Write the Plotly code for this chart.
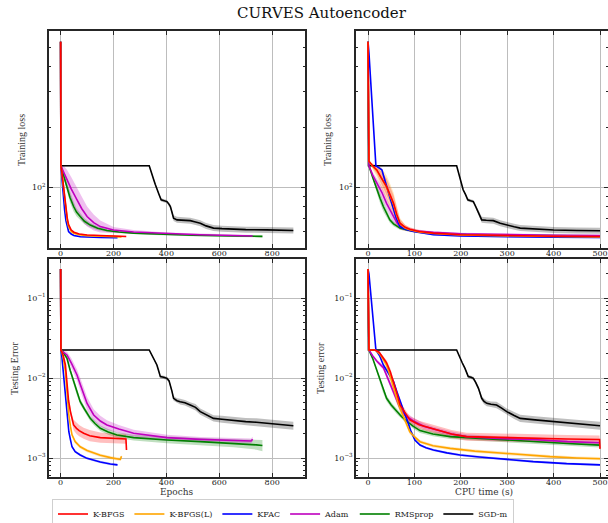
import plotly.graph_objects as go

# ---------------- names / colours ----------------
names = ["K-BFGS", "K-BFGS(L)", "KFAC", "Adam", "RMSprop", "SGD-m"]

# ---------------- Top-left: Epochs vs training loss ----------------
tl_kbfgs_x = [0, 1, 5, 10, 15, 20, 25, 30, 40, 50, 70, 100, 150, 200, 248]
tl_kbfgs_y = [535, 128, 118, 103, 90, 78, 70, 65, 61, 59.5, 58.3, 57.6, 57.1, 56.8, 56.6]
tl_kbfgs_s = [0, 0, 0.005, 0.008, 0.01, 0.01, 0.01, 0.008, 0.006, 0.005, 0.004, 0.004, 0.004, 0.004, 0.004]

tl_kbfgsl_x = [0, 1, 5, 10, 15, 20, 25, 30, 40, 50, 70, 100, 150, 200, 230]
tl_kbfgsl_y = [535, 128, 117, 101, 88, 76, 68, 63.5, 60, 58.8, 57.8, 57.2, 56.8, 56.5, 56.4]
tl_kbfgsl_s = [0, 0, 0.006, 0.01, 0.012, 0.012, 0.01, 0.008, 0.006, 0.005, 0.004, 0.004, 0.004, 0.004, 0.004]

tl_kfac_x = [0, 1, 5, 10, 15, 20, 25, 30, 40, 50, 75, 100, 150, 215]
tl_kfac_y = [535, 128, 110, 90, 77, 68, 63, 60, 58.3, 57.3, 56.5, 56.2, 56, 55.8]
tl_kfac_s = [0, 0, 0.005, 0.006, 0.006, 0.005, 0.004, 0.004, 0.004, 0.004, 0.003, 0.003, 0.003, 0.003]

tl_adam_x = [0, 1, 10, 24, 40, 62, 80, 100, 125, 150, 200, 276, 400, 528, 650, 726]
tl_adam_y = [535, 128, 120, 109, 98, 86.4, 78, 71.3, 66.5, 63.5, 61, 59.6, 58.5, 57.8, 57.3, 57]
tl_adam_s = [0, 0.005, 0.03, 0.05, 0.06, 0.06, 0.06, 0.05, 0.04, 0.03, 0.015, 0.01, 0.006, 0.005, 0.005, 0.005]

tl_rms_x = [0, 1, 10, 24, 35, 49, 60, 74, 90, 112, 140, 175, 220, 276, 350, 402, 500, 654, 763]
tl_rms_y = [535, 128, 116, 100, 89, 80, 75, 71.3, 67.5, 64.6, 62.3, 60.7, 59.6, 58.9, 58.3, 57.9, 57.5, 57, 56.7]
tl_rms_s = [0, 0, 0.01, 0.02, 0.025, 0.025, 0.02, 0.018, 0.015, 0.012, 0.01, 0.008, 0.006, 0.005, 0.005, 0.005, 0.005, 0.005, 0.005]

tl_sgd_x = [0, 1, 335, 345, 352, 358, 364, 372, 380, 392, 402, 410, 415, 422, 427, 440, 470, 490, 510, 528,
            550, 578, 610, 654, 700, 780, 830, 880]
tl_sgd_y = [535, 128, 128, 118, 109, 103, 97, 92, 86.4, 85.5, 84.7, 82, 80, 74, 70, 68.6, 68.3, 68, 67, 66,
            64, 62.4, 62, 61.6, 61.3, 61.1, 60.9, 60.7]
tl_sgd_s = [0, 0.004, 0.004, 0.005, 0.006, 0.006, 0.006, 0.006, 0.008, 0.008, 0.008, 0.01, 0.01, 0.012, 0.014,
            0.015, 0.015, 0.015, 0.015, 0.015, 0.015, 0.015, 0.015, 0.015, 0.015, 0.015, 0.015, 0.015]

# ---------------- Top-right: CPU time vs training loss ----------------
tr_kbfgs_x = [0, 2, 10, 19, 28, 40, 48, 55, 62, 69, 80, 90, 110, 141, 200, 300, 400, 500]
tr_kbfgs_y = [535, 135, 128, 122, 112, 100.7, 91, 83, 73, 66, 63, 61.6, 60, 58.9, 57.8, 57.1, 56.8, 56.6]
tr_kbfgs_s = [0, 0, 0.01, 0.02, 0.03, 0.04, 0.04, 0.04, 0.035, 0.02, 0.012, 0.01, 0.008, 0.006, 0.005, 0.005, 0.005, 0.005]

tr_kbfgsl_x = [0, 2, 10, 19, 28, 40, 48, 55, 62, 69, 80, 90, 110, 141, 200, 300, 400, 500]
tr_kbfgsl_y = [535, 135, 127, 121, 112, 100, 90, 82, 72, 65.5, 62.5, 61.2, 59.7, 58.6, 57.6, 56.9, 56.6, 56.4]
tr_kbfgsl_s = [0, 0, 0.015, 0.03, 0.05, 0.06, 0.06, 0.06, 0.05, 0.03, 0.015, 0.01, 0.008, 0.006, 0.005, 0.005, 0.005, 0.005]

tr_kfac_x = [0, 2, 17, 25, 30, 38, 47, 54, 60, 69, 80, 98, 120, 141, 200, 300, 400, 500]
tr_kfac_y = [535, 470, 128, 125, 122, 105, 89.7, 80, 71, 63.5, 61.5, 60, 58.8, 57.9, 57, 56.4, 56.1, 56]
tr_kfac_s = [0, 0, 0, 0.005, 0.01, 0.015, 0.02, 0.02, 0.015, 0.01, 0.006, 0.005, 0.004, 0.004, 0.004, 0.004, 0.004, 0.004]

tr_adam_x = [0, 2, 10, 19, 30, 40, 47, 54, 62, 69, 85, 105, 141, 200, 300, 400, 500]
tr_adam_y = [535, 128, 115, 104.7, 94, 83, 77, 71.3, 66.5, 63.5, 61.5, 60.3, 59.4, 58.5, 57.8, 57.4, 57.2]
tr_adam_s = [0, 0, 0.015, 0.025, 0.03, 0.03, 0.03, 0.025, 0.02, 0.015, 0.01, 0.008, 0.006, 0.005, 0.005, 0.005, 0.005]

tr_rms_x = [0, 2, 10, 19, 26, 33, 40, 47, 55, 62, 69, 85, 105, 140, 212, 300, 400, 500]
tr_rms_y = [535, 128, 112, 97, 88, 80, 74, 68.6, 65.5, 63.6, 62.4, 61, 60, 59, 57.9, 57.4, 57.2, 57]
tr_rms_s = [0, 0, 0.01, 0.02, 0.025, 0.025, 0.02, 0.015, 0.012, 0.01, 0.008, 0.006, 0.005, 0.005, 0.005, 0.005, 0.005, 0.005]

tr_sgd_x = [0, 1, 191, 195, 198, 202, 205, 210, 215, 221, 227, 232, 238, 242, 245, 255, 270, 285, 299, 315,
            328, 360, 400, 450, 500]
tr_sgd_y = [535, 128, 128, 118, 109, 103, 97, 92, 86.4, 85.5, 84.7, 80, 74, 71, 68.6, 68.3, 68, 66, 64.6, 63.3,
            62.4, 61.6, 61, 60.7, 60.5]
tr_sgd_s = [0, 0.004, 0.004, 0.005, 0.006, 0.006, 0.006, 0.006, 0.008, 0.008, 0.008, 0.01, 0.012, 0.014, 0.015,
            0.015, 0.015, 0.015, 0.015, 0.015, 0.015, 0.015, 0.015, 0.015, 0.015]

# ---------------- Bottom-left: Epochs vs testing error ----------------
bl_kbfgs_x = [0, 1, 5, 10, 18, 24, 30, 37, 43, 49, 60, 70, 87, 110, 150, 200, 247, 249]
bl_kbfgs_y = [0.23, 0.0224, 0.021, 0.019, 0.01454, 0.00743, 0.0052, 0.0038, 0.0030, 0.00259, 0.00235, 0.0022,
              0.00204, 0.0019, 0.0018, 0.00175, 0.00173, 0.00126]
bl_kbfgs_s = [0, 0, 0.005, 0.01, 0.02, 0.03, 0.04, 0.05, 0.06, 0.065, 0.07, 0.07, 0.07, 0.07, 0.065, 0.06, 0.06, 0.02]

bl_kbfgsl_x = [0, 1, 5, 10, 18, 24, 31, 37, 43, 55, 74, 100, 125, 150, 188, 226, 230]
bl_kbfgsl_y = [0.23, 0.0224, 0.021, 0.018, 0.012, 0.0065, 0.00346, 0.0025, 0.00195, 0.0016, 0.00138, 0.00124,
               0.00115, 0.00108, 0.00101, 0.00096, 0.00105]
bl_kbfgsl_s = [0, 0, 0.005, 0.01, 0.015, 0.02, 0.02, 0.02, 0.02, 0.02, 0.02, 0.02, 0.02, 0.02, 0.02, 0.02, 0.02]

bl_kfac_x = [0, 1, 5, 10, 18, 24, 31, 37, 43, 55, 74, 100, 125, 150, 188, 215]
bl_kfac_y = [0.23, 0.0224, 0.018, 0.012, 0.00557, 0.0032, 0.00213, 0.0017, 0.00138, 0.0012, 0.00109, 0.00099,
             0.00093, 0.00089, 0.00084, 0.00082]
bl_kfac_s = [0, 0, 0.005, 0.01, 0.015, 0.015, 0.015, 0.015, 0.015, 0.015, 0.015, 0.015, 0.015, 0.015, 0.015, 0.015]

bl_adam_x = [0, 1, 10, 24, 40, 62, 75, 87, 100, 125, 150, 175, 220, 276, 350, 402, 528, 679, 720, 726]
bl_adam_y = [0.23, 0.0224, 0.021, 0.0194, 0.0155, 0.0109, 0.0082, 0.00613, 0.0048, 0.00345, 0.0029, 0.00259,
             0.0023, 0.00204, 0.00188, 0.0018, 0.00171, 0.00163, 0.00163, 0.00172]
bl_adam_s = [0, 0.005, 0.02, 0.04, 0.06, 0.07, 0.08, 0.08, 0.08, 0.07, 0.065, 0.06, 0.05, 0.045, 0.04, 0.035,
             0.03, 0.03, 0.03, 0.03]

bl_rms_x = [0, 1, 10, 24, 36, 49, 60, 74, 90, 112, 130, 150, 180, 213, 276, 350, 402, 528, 654, 740, 763]
bl_rms_y = [0.23, 0.0224, 0.021, 0.0176, 0.0125, 0.009, 0.0068, 0.00506, 0.0041, 0.00313, 0.0027, 0.00235,
            0.00212, 0.00194, 0.0018, 0.00172, 0.00168, 0.0016, 0.00153, 0.00146, 0.00143]
bl_rms_s = [0, 0.005, 0.01, 0.02, 0.03, 0.035, 0.035, 0.035, 0.035, 0.035, 0.035, 0.035, 0.035, 0.035, 0.035,
            0.04, 0.04, 0.045, 0.05, 0.06, 0.07]

bl_sgd_x = [0, 1, 335, 345, 352, 358, 364, 370, 377, 390, 402, 410, 415, 421, 427, 440, 452, 470, 490, 510,
            528, 550, 578, 610, 654, 700, 740, 780, 830, 880]
bl_sgd_y = [0.23, 0.0224, 0.0224, 0.0195, 0.0176, 0.0163, 0.01454, 0.0125, 0.0104, 0.0102, 0.0099, 0.0092,
            0.00818, 0.0068, 0.00557, 0.0052, 0.00506, 0.0049, 0.0046, 0.0043, 0.0038, 0.0035, 0.00313,
            0.00305, 0.00293, 0.00285, 0.0028, 0.00271, 0.00262, 0.00253]
bl_sgd_s = [0, 0.005, 0.005, 0.008, 0.01, 0.012, 0.015, 0.015, 0.02, 0.02, 0.02, 0.02, 0.025, 0.03, 0.03, 0.03,
            0.035, 0.035, 0.035, 0.04, 0.04, 0.04, 0.04, 0.045, 0.045, 0.045, 0.05, 0.05, 0.05, 0.05]

# ---------------- Bottom-right: CPU time vs testing error ----------------
br_kbfgs_x = [0, 2, 15, 24, 32, 40, 48, 55, 62, 69, 80, 90, 110, 141, 180, 212, 280, 356, 430, 499, 500]
br_kbfgs_y = [0.23, 0.0224, 0.0224, 0.021, 0.018, 0.0155, 0.012, 0.009, 0.0065, 0.0046, 0.0036, 0.003, 0.0026,
              0.0023, 0.002, 0.00185, 0.0018, 0.00176, 0.00173, 0.0017, 0.0013]
br_kbfgs_s = [0, 0, 0.005, 0.01, 0.02, 0.03, 0.04, 0.04, 0.04, 0.04, 0.045, 0.045, 0.05, 0.05, 0.05, 0.05, 0.05,
              0.05, 0.05, 0.05, 0.02]

br_kbfgsl_x = [0, 2, 15, 25, 33, 40, 48, 55, 62, 69, 80, 90, 101, 112, 140, 177, 230, 284, 340, 392, 450, 500]
br_kbfgsl_y = [0.23, 0.0224, 0.0224, 0.02, 0.017, 0.0145, 0.0105, 0.0074, 0.0055, 0.0042, 0.0029, 0.00213,
               0.00182, 0.0016, 0.00142, 0.00132, 0.00122, 0.00115, 0.00109, 0.00104, 0.001, 0.00098]
br_kbfgsl_s = [0, 0, 0.005, 0.02, 0.04, 0.05, 0.06, 0.06, 0.06, 0.05, 0.04, 0.03, 0.025, 0.02, 0.02, 0.02, 0.02,
               0.02, 0.02, 0.02, 0.02, 0.02]

br_kfac_x = [0, 2, 17, 25, 33, 44, 55, 62, 69, 76, 83, 92, 101, 112, 125, 141, 170, 198, 240, 284, 356, 428, 500]
br_kfac_y = [0.23, 0.2, 0.0224, 0.019, 0.01454, 0.0115, 0.009, 0.0068, 0.00506, 0.004, 0.00313, 0.0022, 0.00168,
             0.00145, 0.00134, 0.00126, 0.00116, 0.00109, 0.00103, 0.00098, 0.0009, 0.00085, 0.00082]
br_kfac_s = [0, 0, 0, 0.01, 0.02, 0.03, 0.03, 0.03, 0.03, 0.03, 0.025, 0.02, 0.015, 0.015, 0.015, 0.015, 0.015,
             0.015, 0.015, 0.015, 0.015, 0.015, 0.015]

br_adam_x = [0, 2, 10, 20, 33, 44, 55, 62, 69, 80, 98, 120, 141, 180, 212, 280, 356, 430, 500]
br_adam_y = [0.23, 0.0224, 0.019, 0.016, 0.0135, 0.0095, 0.0068, 0.0052, 0.0042, 0.0034, 0.0029, 0.0025, 0.0023,
             0.002, 0.00185, 0.00175, 0.0017, 0.0016, 0.00155]
br_adam_s = [0, 0, 0.01, 0.02, 0.03, 0.04, 0.04, 0.04, 0.04, 0.04, 0.04, 0.035, 0.03, 0.03, 0.03, 0.03, 0.03,
             0.03, 0.03]

br_rms_x = [0, 2, 10, 17, 24, 32, 40, 50, 62, 72, 83, 97, 112, 140, 177, 230, 284, 356, 430, 500]
br_rms_y = [0.23, 0.0224, 0.0176, 0.0135, 0.0099, 0.0072, 0.00557, 0.0046, 0.0038, 0.0033, 0.0029, 0.0025,
            0.0022, 0.002, 0.00185, 0.00177, 0.0017, 0.0016, 0.00152, 0.00145]
br_rms_s = [0, 0, 0.01, 0.02, 0.03, 0.035, 0.035, 0.035, 0.03, 0.03, 0.03, 0.03, 0.03, 0.03, 0.03, 0.03, 0.03,
            0.03, 0.03, 0.03]

br_sgd_x = [0, 1, 191, 195, 198, 203, 209, 213, 216, 222, 227, 232, 238, 242, 245, 250, 256, 265, 277, 288,
            299, 315, 328, 360, 400, 450, 500]
br_sgd_y = [0.23, 0.0224, 0.0224, 0.0195, 0.0176, 0.0155, 0.0132, 0.0115, 0.0104, 0.0102, 0.0099, 0.0088,
            0.00743, 0.0063, 0.00557, 0.0051, 0.00482, 0.0047, 0.0046, 0.0042, 0.0038, 0.0034, 0.00313,
            0.003, 0.00284, 0.0027, 0.00253]
br_sgd_s = [0, 0.005, 0.005, 0.008, 0.01, 0.012, 0.015, 0.015, 0.02, 0.02, 0.02, 0.02, 0.025, 0.03, 0.03, 0.035,
            0.035, 0.035, 0.04, 0.04, 0.04, 0.045, 0.045, 0.045, 0.05, 0.05, 0.05]

# ---------------- tick labels ----------------
epoch_ticks = [0, 200, 400, 600, 800]
cpu_ticks = [0, 100, 200, 300, 400, 500]
loss_ticks = [100]
loss_ticktext = ["10<sup>2</sup>"]
err_ticks = [0.001, 0.01, 0.1]
err_ticktext = ["10<sup>\u22123</sup>", "10<sup>\u22122</sup>", "10<sup>\u22121</sup>"]

# ---------------- styling ----------------
W, H = 608, 523
line_colors = ["#ff0000", "#ffa500", "#0000ff", "#bf00bf", "#008000", "#000000"]
band_colors = ["rgba(255,0,0,0.25)", "rgba(255,165,0,0.25)", "rgba(0,0,255,0.22)",
               "rgba(191,0,191,0.25)", "rgba(0,128,0,0.25)", "rgba(0,0,0,0.25)"]
SERIF = "DejaVu Serif"

panels = [
    ("x", "y", [(tl_kbfgs_x, tl_kbfgs_y, tl_kbfgs_s), (tl_kbfgsl_x, tl_kbfgsl_y, tl_kbfgsl_s),
                (tl_kfac_x, tl_kfac_y, tl_kfac_s), (tl_adam_x, tl_adam_y, tl_adam_s),
                (tl_rms_x, tl_rms_y, tl_rms_s), (tl_sgd_x, tl_sgd_y, tl_sgd_s)]),
    ("x2", "y2", [(tr_kbfgs_x, tr_kbfgs_y, tr_kbfgs_s), (tr_kbfgsl_x, tr_kbfgsl_y, tr_kbfgsl_s),
                  (tr_kfac_x, tr_kfac_y, tr_kfac_s), (tr_adam_x, tr_adam_y, tr_adam_s),
                  (tr_rms_x, tr_rms_y, tr_rms_s), (tr_sgd_x, tr_sgd_y, tr_sgd_s)]),
    ("x3", "y3", [(bl_kbfgs_x, bl_kbfgs_y, bl_kbfgs_s), (bl_kbfgsl_x, bl_kbfgsl_y, bl_kbfgsl_s),
                  (bl_kfac_x, bl_kfac_y, bl_kfac_s), (bl_adam_x, bl_adam_y, bl_adam_s),
                  (bl_rms_x, bl_rms_y, bl_rms_s), (bl_sgd_x, bl_sgd_y, bl_sgd_s)]),
    ("x4", "y4", [(br_kbfgs_x, br_kbfgs_y, br_kbfgs_s), (br_kbfgsl_x, br_kbfgsl_y, br_kbfgsl_s),
                  (br_kfac_x, br_kfac_y, br_kfac_s), (br_adam_x, br_adam_y, br_adam_s),
                  (br_rms_x, br_rms_y, br_rms_s), (br_sgd_x, br_sgd_y, br_sgd_s)]),
]

fig = go.Figure()
draw_order = [5, 4, 3, 2, 1, 0]

# legend entries (in legend order)
for i in range(6):
    fig.add_trace(go.Scatter(x=[None], y=[None], xaxis="x", yaxis="y", mode="lines",
                             line=dict(width=1.6, color=line_colors[i]), name=names[i],
                             showlegend=True))

# bands first
for xa, ya, series in panels:
    for i in draw_order:
        x, y, s = series[i]
        hi = [v * 10 ** d for v, d in zip(y, s)]
        lo = [v * 10 ** (-d) for v, d in zip(y, s)]
        fig.add_trace(go.Scatter(x=x, y=hi, xaxis=xa, yaxis=ya, mode="lines",
                                 line=dict(width=0, color=band_colors[i]), showlegend=False,
                                 hoverinfo="skip"))
        fig.add_trace(go.Scatter(x=x, y=lo, xaxis=xa, yaxis=ya, mode="lines",
                                 line=dict(width=0, color=band_colors[i]), fill="tonexty",
                                 fillcolor=band_colors[i], showlegend=False, hoverinfo="skip"))

# lines on top
for p, (xa, ya, series) in enumerate(panels):
    for i in draw_order:
        x, y, s = series[i]
        fig.add_trace(go.Scatter(x=x, y=y, xaxis=xa, yaxis=ya, mode="lines",
                                 line=dict(width=1.6, color=line_colors[i]),
                                 name=names[i], showlegend=False))

# ---------------- axes ----------------
def px_x(px):
    return px / W

def px_y(py):
    return 1 - py / H

axis_common = dict(showline=True, linecolor="#262626", linewidth=1.5, mirror="ticks",
                   ticks="inside", ticklen=4, tickwidth=1, tickcolor="#262626",
                   showgrid=True, gridcolor="#bdbdbd", gridwidth=1.4, zeroline=False,
                   tickfont=dict(family=SERIF, size=8, color="#222"))

left_dom = [px_x(49), px_x(305)]
right_dom = [px_x(356), 1.0]
top_dom = [px_y(248), px_y(31)]
bot_dom = [px_y(477), px_y(259)]

loss_minor = [50, 60, 70, 80, 90, 200, 300, 400, 500, 600]
err_minor = [6e-4, 7e-4, 8e-4, 9e-4, 2e-3, 3e-3, 4e-3, 5e-3, 6e-3, 7e-3, 8e-3, 9e-3,
             2e-2, 3e-2, 4e-2, 5e-2, 6e-2, 7e-2, 8e-2, 9e-2, 2e-1, 3e-1]

def yaxis(dom, anchor, rng, tv, tt, minor):
    return dict(axis_common, domain=dom, anchor=anchor, type="log", range=rng,
                tickmode="array", tickvals=tv, ticktext=tt,
                minor=dict(tickmode="array", tickvals=minor, ticks="inside", ticklen=2.5,
                           tickcolor="#262626", showgrid=False))

def xaxis(dom, anchor, rng, tv):
    return dict(axis_common, domain=dom, anchor=anchor, range=rng, tickmode="array", tickvals=tv,
                ticklabelstandoff=-3)

loss_range = [1.6955, 2.7818]
err_range = [-3.2375, -0.5125]
epoch_range = [-44, 924]
cpu_range = [-25.9, 517.2]

fig.update_layout(
    xaxis=xaxis(left_dom, "y", epoch_range, epoch_ticks),
    yaxis=yaxis(top_dom, "x", loss_range, loss_ticks, loss_ticktext, loss_minor),
    xaxis2=xaxis(right_dom, "y2", cpu_range, cpu_ticks),
    yaxis2=yaxis(top_dom, "x2", loss_range, loss_ticks, loss_ticktext, loss_minor),
    xaxis3=xaxis(left_dom, "y3", epoch_range, epoch_ticks),
    yaxis3=yaxis(bot_dom, "x3", err_range, err_ticks, err_ticktext, err_minor),
    xaxis4=xaxis(right_dom, "y4", cpu_range, cpu_ticks),
    yaxis4=yaxis(bot_dom, "x4", err_range, err_ticks, err_ticktext, err_minor),
)

annots = [
    dict(text="CURVES Autoencoder", x=px_x(322), y=px_y(13), font=dict(family=SERIF, size=15, color="#111")),
    dict(text="Training loss", x=px_x(21), y=px_y(140), textangle=-90,
         font=dict(family="Liberation Serif", size=10, color="#333")),
    dict(text="Training loss", x=px_x(327), y=px_y(140), textangle=-90,
         font=dict(family="Liberation Serif", size=10, color="#333")),
    dict(text="Testing Error", x=px_x(14), y=px_y(368), textangle=-90,
         font=dict(family="Liberation Serif", size=10, color="#333")),
    dict(text="Testing error", x=px_x(320), y=px_y(368), textangle=-90,
         font=dict(family="Liberation Serif", size=10, color="#333")),
    dict(text="Epochs", x=px_x(177), y=px_y(492), font=dict(family=SERIF, size=9, color="#333")),
    dict(text="CPU time (s)", x=px_x(484), y=px_y(492), font=dict(family=SERIF, size=9, color="#333")),
]
for a in annots:
    a.update(xref="paper", yref="paper", showarrow=False, xanchor="center", yanchor="middle")

fig.update_layout(
    annotations=annots,
    width=W, height=H,
    margin=dict(l=0, r=0, t=0, b=0, pad=0, autoexpand=False),
    paper_bgcolor="white", plot_bgcolor="white",
    font=dict(family=SERIF, size=8, color="#222"),
    showlegend=True,
    legend=dict(orientation="h", x=px_x(52), xanchor="left", y=px_y(514), yanchor="middle",
                bordercolor="#cfcfcf", borderwidth=1, bgcolor="white", traceorder="normal",
                font=dict(family=SERIF, size=8, color="#222"), itemwidth=30, tracegroupgap=0),
)

fig.write_html("out.html")
